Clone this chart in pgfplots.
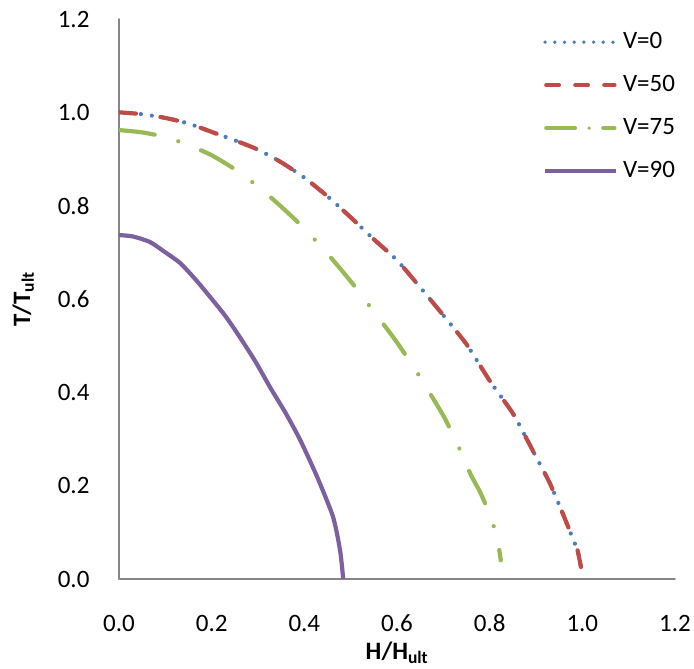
\documentclass[border=0pt]{standalone}
\usepackage{pgfplots}
\pgfplotsset{compat=1.18}
\usepackage{fontspec}
\setmainfont{Carlito}
\definecolor{cblue}{RGB}{74,126,187}
\definecolor{cred}{RGB}{190,75,72}
\definecolor{cgreen}{RGB}{152,185,84}
\definecolor{cpurple}{RGB}{125,96,160}
\definecolor{axgray}{RGB}{134,134,134}
\newcommand{\tfont}{\fontsize{25}{30}\selectfont}
\begin{document}
\begin{tikzpicture}
\useasboundingbox (-119pt,-90pt) rectangle (575pt,579pt);
\begin{axis}[
  at={(0pt,0pt)}, anchor=south west,
  scale only axis, width=556pt, height=560pt,
  xmin=0, xmax=1.2, ymin=0, ymax=1.2,
  axis lines=left,
  axis line style={-, draw=axgray, line width=1.5pt},
  major tick length=0pt,
  xtick={0,0.2,0.4,0.6,0.8,1.0,1.2},
  ytick={0,0.2,0.4,0.6,0.8,1.0,1.2},
  xticklabels={0.0,0.2,0.4,0.6,0.8,1.0,1.2},
  yticklabels={0.0,0.2,0.4,0.6,0.8,1.0,1.2},
  tick label style={font=\tfont, text=black},
  xticklabel style={anchor=center, yshift=-44pt},
  yticklabel style={anchor=east, xshift=-26pt},
  xlabel={\textbf{H/H}\textsubscript{\textbf{ult}}},
  ylabel={\textbf{T/T}\textsubscript{\textbf{ult}}},
  xlabel style={font=\tfont, at={(axis description cs:0.5,-0.1446)}, anchor=base},
  ylabel style={font=\tfont, at={(axis description cs:-0.160,0.5)}, anchor=base, rotate=0},
  legend style={at={(axis description cs:0.7626,0.984)}, anchor=north west,
    draw=none, fill=none, font=\tfont, inner sep=0pt, column sep=3pt, row sep=15pt,
    nodes={text height=18pt, text depth=6pt, inner sep=2pt}},
  legend cell align=left,
  line cap=round,
]
\addplot[cblue, line width=4.2pt, line cap=round, smooth, tension=0.4, dash pattern=on 0pt off 11pt,
  legend image code/.code={\draw[cblue, line width=3.8pt, line cap=round, dash pattern=on 0pt off 9.7pt] (1pt,0pt) -- (72pt,0pt);}]
coordinates {(0,1.0)(0.05,0.996)(0.1,0.988)(0.15,0.976)(0.2,0.958)(0.25,0.94)(0.3,0.92)(0.35,0.893)(0.4,0.86)(0.45,0.82)(0.5,0.775)(0.55,0.728)(0.6,0.683)(0.65,0.625)(0.7,0.565)(0.75,0.503)(0.8,0.425)(0.85,0.355)(0.88,0.30)(0.9,0.262)(0.93,0.205)(0.96,0.135)(0.98,0.085)(0.99,0.06)(1.0,0.01)};
\addlegendentry{V=0}
\addplot[cred, line width=4.2pt, line cap=round, smooth, tension=0.4, dash pattern=on 17pt off 24.7pt,
  legend image code/.code={\draw[cred, line width=3.8pt, line cap=round, dash pattern=on 13pt off 16pt] (2pt,0pt) -- (70.5pt,0pt);}]
coordinates {(0,1.0)(0.05,0.996)(0.1,0.988)(0.15,0.976)(0.2,0.958)(0.25,0.94)(0.3,0.92)(0.35,0.893)(0.4,0.86)(0.45,0.82)(0.5,0.775)(0.55,0.728)(0.6,0.683)(0.65,0.625)(0.7,0.565)(0.75,0.503)(0.8,0.425)(0.85,0.355)(0.88,0.30)(0.9,0.262)(0.93,0.205)(0.96,0.135)(0.98,0.085)(0.99,0.06)(1.0,0.01)};
\addlegendentry{V=50}
\addplot[cgreen, line width=4.2pt, line cap=round, smooth, tension=0.4, dash pattern=on 36pt off 24.5pt on 0pt off 24.5pt,
  legend image code/.code={\draw[cgreen, line width=3.8pt, line cap=round, dash pattern=on 29pt off 14pt on 0pt off 14pt] (2pt,0pt) -- (70.5pt,0pt);}]
coordinates {(0,0.962)(0.05,0.957)(0.1,0.947)(0.15,0.93)(0.2,0.908)(0.25,0.878)(0.3,0.841)(0.35,0.798)(0.4,0.751)(0.45,0.697)(0.5,0.638)(0.55,0.573)(0.6,0.507)(0.65,0.432)(0.7,0.35)(0.72,0.31)(0.74,0.268)(0.76,0.222)(0.78,0.185)(0.8,0.138)(0.816,0.09)(0.824,0.04)};
\addlegendentry{V=75}
\addplot[cpurple, line width=4.2pt, solid, smooth, tension=0.4,
  legend image code/.code={\draw[cpurple, line width=3.8pt] (1pt,0pt) -- (72pt,0pt);}]
coordinates {(0,0.737)(0.03,0.734)(0.067,0.722)(0.1,0.70)(0.132,0.677)(0.165,0.642)(0.197,0.604)(0.23,0.563)(0.261,0.518)(0.295,0.465)(0.326,0.411)(0.36,0.355)(0.391,0.298)(0.428,0.218)(0.462,0.133)(0.477,0.062)(0.484,0.0)};
\addlegendentry{V=90}
\end{axis}
\end{tikzpicture}
\end{document}
